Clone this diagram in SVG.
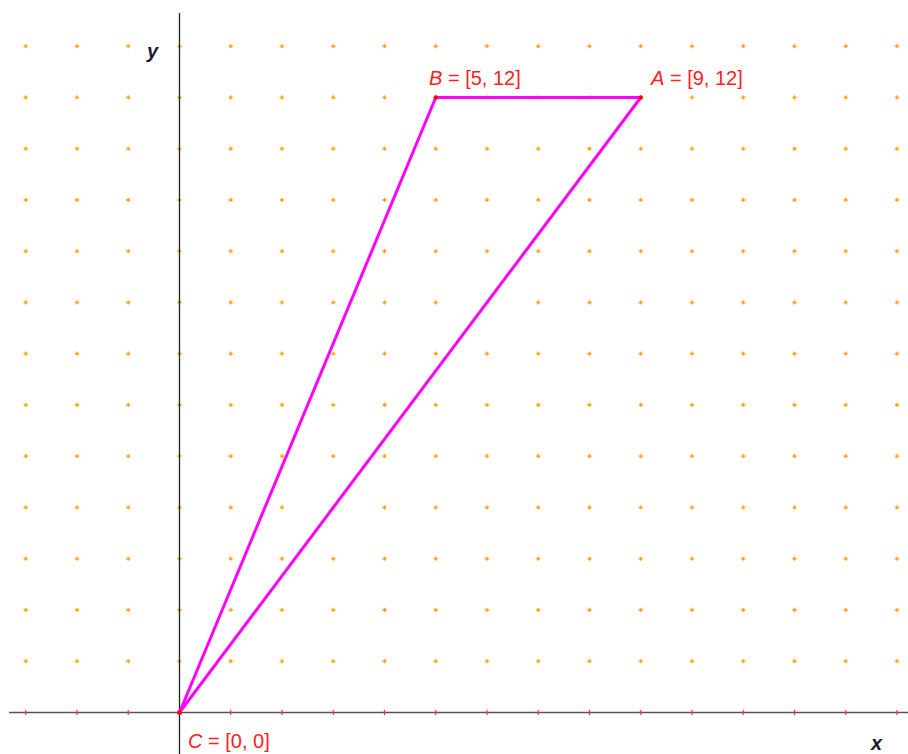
<svg xmlns="http://www.w3.org/2000/svg" width="908" height="754" viewBox="0 0 908 754">
<style>
.lbl{font-family:"Liberation Sans",Arial,sans-serif;font-size:20px;fill:#ff2020}
.ax{font-family:"Liberation Sans",Arial,sans-serif;font-size:20px;font-style:italic;font-weight:bold;fill:#1a1a2e}
.edge{stroke:#ff00ff;stroke-width:3;fill:none;stroke-linecap:round}
.pt{fill:#ff0000}
</style>
<defs>
<pattern id="grid" patternUnits="userSpaceOnUse" x="-0.375" y="20.625" width="51.25" height="51.25">
<path d="M24,25.625h4.2M26.125,23.5v4.2" stroke="#ff9900" stroke-width="1.4"/>
</pattern>
<pattern id="ticks" patternUnits="userSpaceOnUse" x="-0.375" y="700" width="51.25" height="30">
<path d="M26.125,10v5" stroke="#ff3030" stroke-width="1.3"/>
</pattern>
</defs>
<rect width="908" height="754" fill="#ffffff"/>
<g id="grid-dots">
<rect x="0" y="20" width="908" height="660" fill="url(#grid)"/>
</g>
<g id="axes">
<line x1="9" y1="712.5" x2="908" y2="712.5" stroke="#555" stroke-width="1.3"/>
<line x1="179.5" y1="13" x2="179.5" y2="754" stroke="#222" stroke-width="1.3"/>
<rect x="0" y="700" width="908" height="25" fill="url(#ticks)"/>
<text class="ax" x="147" y="58">y</text>
<text class="ax" x="871" y="750">x</text>
</g>
<g id="connectors">
<line class="edge" x1="179.5" y1="712.5" x2="435.75" y2="97.5"/>
<line class="edge" x1="435.75" y1="97.5" x2="640.75" y2="97.5"/>
<line class="edge" x1="640.75" y1="97.5" x2="179.5" y2="712.5"/>
</g>
<g id="node-B">
<circle class="pt" cx="435.75" cy="97.5" r="2.2"/>
<text class="lbl" x="429" y="85"><tspan font-style="italic">B</tspan> = [5, 12]</text>
</g>
<g id="node-A">
<circle class="pt" cx="640.75" cy="97.5" r="2.2"/>
<text class="lbl" x="651" y="85"><tspan font-style="italic">A</tspan> = [9, 12]</text>
</g>
<g id="node-C">
<circle class="pt" cx="179.5" cy="712.5" r="2.5"/>
<text class="lbl" x="188" y="748"><tspan font-style="italic">C</tspan> = [0, 0]</text>
</g>
</svg>
